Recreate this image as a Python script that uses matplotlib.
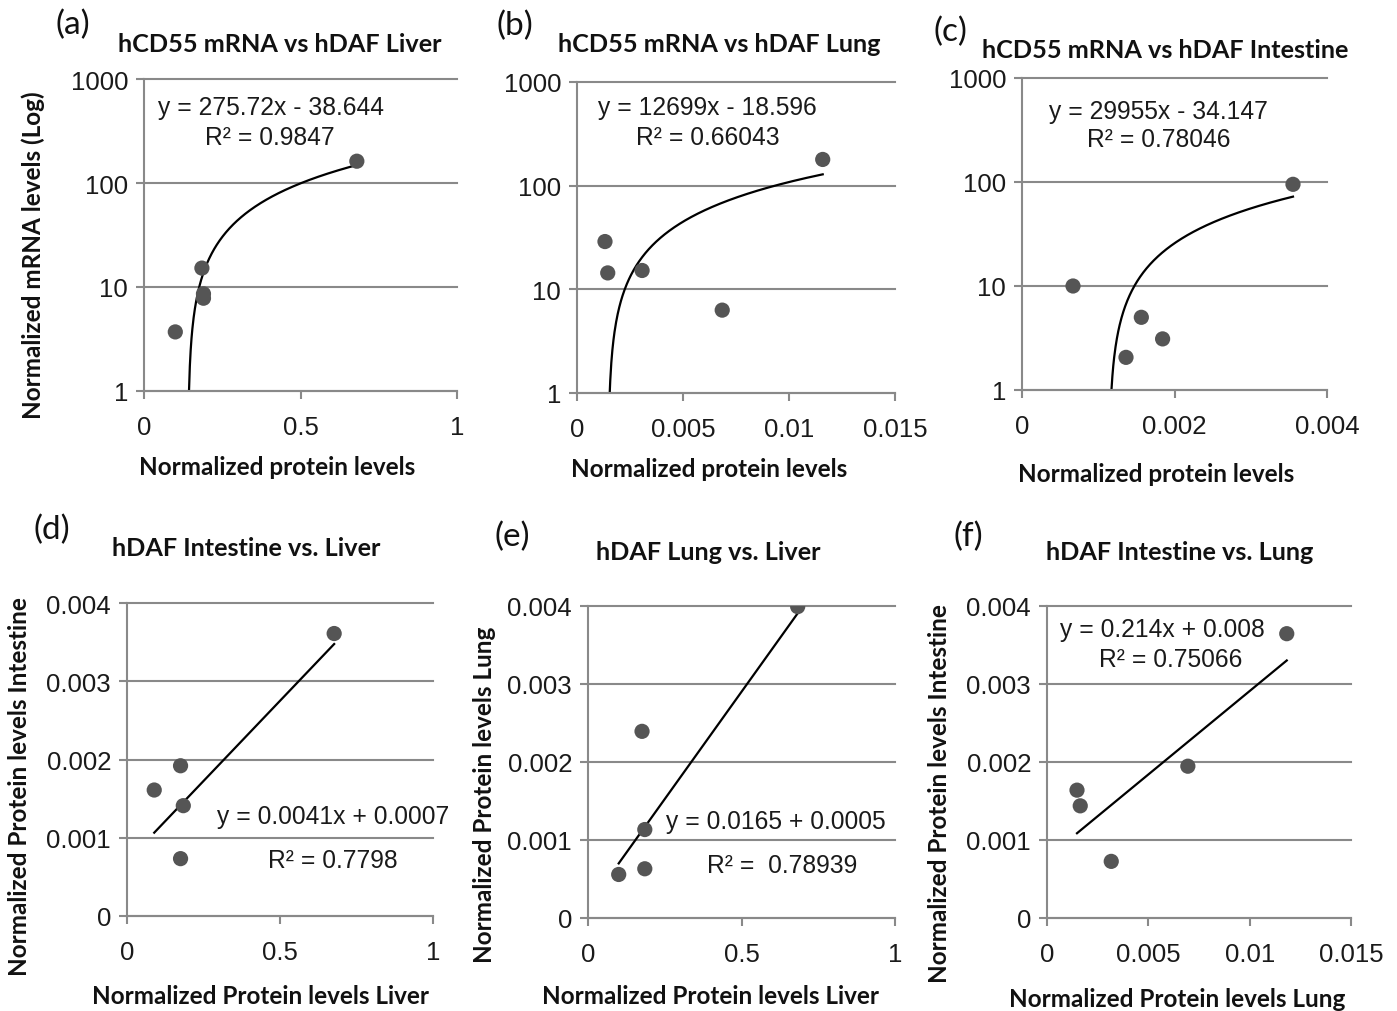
import numpy as np
import matplotlib
matplotlib.use('Agg')
import matplotlib.pyplot as plt
from matplotlib.ticker import NullLocator

W, H = 1397, 1012
GRID = '#898989'
DOT = '#555555'

plt.rcParams['font.family'] = ['Liberation Sans', 'DejaVu Sans']

# --- mRNA vs protein (log y) ---
a_protein = [0.10, 0.185, 0.19, 0.19, 0.68]
a_mrna = [3.7, 15.2, 8.6, 7.8, 162]
a_fit = (275.72, -38.644)

b_protein = [0.00132, 0.00145, 0.00307, 0.00685, 0.01159]
b_mrna = [28.9, 14.4, 15.2, 6.3, 179]
b_fit = (12699, -18.596)

c_protein = [0.000669, 0.001364, 0.001565, 0.001844, 0.003554]
c_mrna = [10.0, 2.06, 5.0, 3.1, 95]
c_fit = (29955, -34.147)

# --- protein vs protein ---
d_liver = [0.089, 0.175, 0.175, 0.184, 0.677]
d_intestine = [0.00161, 0.00192, 0.000733, 0.00141, 0.00361]
d_fit = (0.0041, 0.0007)

e_liver = [0.100, 0.176, 0.185, 0.185, 0.683]
e_lung = [0.000558, 0.002393, 0.001134, 0.000631, 0.003992]
e_fit = (0.0055, 0.00015)

f_lung = [0.00148, 0.00164, 0.00317, 0.00695, 0.01183]
f_intestine = [0.001639, 0.001438, 0.000726, 0.001946, 0.003645]
f_fit = (0.214, 0.00077)

log_ticks = [1, 10, 100, 1000]
log_labels = ['1', '10', '100', '1000']
lin_ticks = [0, 0.001, 0.002, 0.003, 0.004]
lin_labels = ['0', '0.001', '0.002', '0.003', '0.004']
liver_ticks = [0, 0.5, 1]
liver_labels = ['0', '0.5', '1']
lung_ticks = [0, 0.005, 0.01, 0.015]
lung_labels = ['0', '0.005', '0.01', '0.015']
int_ticks = [0, 0.002, 0.004]
int_labels = ['0', '0.002', '0.004']


def rect(l, t, r, b):
    return [l / W, 1 - b / H, (r - l) / W, (b - t) / H]


def ftext(x, y, s, **kw):
    fig.text(x / W, 1 - y / H, s, ha='center', va='center', **kw)


def style(ax, xt, xl, yt, yl):
    for s in ('top', 'right'):
        ax.spines[s].set_visible(False)
    for s in ('left', 'bottom'):
        ax.spines[s].set_color(GRID)
        ax.spines[s].set_linewidth(1.5)
    ax.set_xticks(xt)
    ax.set_xticklabels(xl)
    ax.set_yticks(yt)
    ax.set_yticklabels(yl)
    ax.yaxis.set_minor_locator(NullLocator())
    ax.xaxis.set_minor_locator(NullLocator())
    ax.tick_params(direction='out', length=5.5, width=1.5, color=GRID,
                   labelsize=18.5, labelcolor='#1a1a1a')
    ax.tick_params(axis='x', pad=12)
    ax.tick_params(axis='y', pad=6)
    ax.grid(axis='y', color=GRID, linewidth=1.5)
    for g in ax.get_ygridlines():
        g.set_clip_on(False)
    ax.set_axisbelow(True)


def trend(ax, x, fit, ymin=None):
    m, b = fit
    x0, x1 = min(x), max(x)
    if ymin is not None:
        x0 = max(x0, (ymin - b) / m)
    xs = np.linspace(x0, x1, 400)
    ax.plot(xs, m * xs + b, color='black', lw=1.6, zorder=2)


fig = plt.figure(figsize=(W / 100, H / 100), dpi=100)

log_panels = [
    (rect(144, 80, 457, 392), a_protein, a_mrna, a_fit, (0, 1), liver_ticks, liver_labels),
    (rect(577, 83, 895, 394), b_protein, b_mrna, b_fit, (0, 0.015), lung_ticks, lung_labels),
    (rect(1022, 79, 1327, 391), c_protein, c_mrna, c_fit, (0, 0.004), int_ticks, int_labels),
]
for pos, x, y, fit, xlim, xt, xl in log_panels:
    ax = fig.add_axes(pos)
    ax.set_yscale('log')
    ax.set_ylim(1, 1000)
    ax.set_xlim(*xlim)
    style(ax, xt, xl, log_ticks, log_labels)
    trend(ax, x, fit, ymin=1)
    ax.scatter(x, y, s=120, color=DOT, edgecolors='none', zorder=3)

lin_panels = [
    (rect(127, 604, 433, 917), d_liver, d_intestine, d_fit, (0, 1), liver_ticks, liver_labels),
    (rect(588, 607, 895, 919), e_liver, e_lung, e_fit, (0, 1), liver_ticks, liver_labels),
    (rect(1047, 607, 1351, 919), f_lung, f_intestine, f_fit, (0, 0.015), lung_ticks, lung_labels),
]
for pos, x, y, fit, xlim, xt, xl in lin_panels:
    ax = fig.add_axes(pos)
    ax.set_ylim(0, 0.004)
    ax.set_xlim(*xlim)
    style(ax, xt, xl, lin_ticks, lin_labels)
    trend(ax, x, fit)
    ax.scatter(x, y, s=120, color=DOT, edgecolors='none', zorder=3)

# equations
eq = dict(fontsize=17.7, color='#1a1a1a')
ftext(271, 108, 'y = 275.72x - 38.644', **eq)
ftext(270, 138, 'R² = 0.9847', **eq)
ftext(707, 108, 'y = 12699x - 18.596', **eq)
ftext(708, 138, 'R² = 0.66043', **eq)
ftext(1158, 112, 'y = 29955x - 34.147', **eq)
ftext(1159, 140, 'R² = 0.78046', **eq)
ftext(333, 817, 'y = 0.0041x + 0.0007', **eq)
ftext(333, 861, 'R² = 0.7798', **eq)
ftext(776, 822, 'y = 0.0165 + 0.0005', **eq)
ftext(782, 866, 'R² =  0.78939', **eq)
ftext(1162, 630, 'y = 0.214x + 0.008', **eq)
ftext(1171, 660, 'R² = 0.75066', **eq)

# titles
tt = dict(fontsize=18.2, fontweight='bold', family='Lato', color='#111111')
ftext(280, 45, 'hCD55 mRNA vs hDAF Liver', **tt)
ftext(719, 45, 'hCD55 mRNA vs hDAF Lung', **tt)
ftext(1165, 51, 'hCD55 mRNA vs hDAF Intestine', **tt)
ftext(246, 548, 'hDAF Intestine vs. Liver', **tt)
ftext(708, 553, 'hDAF Lung vs. Liver', **tt)
ftext(1180, 553, 'hDAF Intestine vs. Lung', **tt)

# panel letters
lt = dict(fontsize=24, family='Lato', color='#111111')
for x, y, s in [(73, 25, '(a)'), (515, 26, '(b)'), (950, 32, '(c)'),
                (52, 530, '(d)'), (512, 537, '(e)'), (968, 537, '(f)')]:
    ftext(x, y, s, **lt)

# axis labels
al = dict(fontsize=17.5, fontweight='bold', family='Lato', color='#111111')
ftext(277, 468, 'Normalized protein levels', **al)
ftext(709, 470, 'Normalized protein levels', **al)
ftext(1156, 475, 'Normalized protein levels', **al)
ftext(261, 997, 'Normalized Protein levels Liver', **al)
ftext(711, 997, 'Normalized Protein levels Liver', **al)
ftext(1177, 1000, 'Normalized Protein levels Lung', **al)
ftext(33, 255, 'Normalized mRNA levels (Log)', rotation=90, **al)
ftext(20, 787, 'Normalized Protein levels Intestine', rotation=90, **al)
ftext(485, 795, 'Normalized Protein levels Lung', rotation=90, **al)
ftext(940, 794, 'Normalized Protein levels Intestine', rotation=90, **al)

fig.savefig('out.png', dpi=100)
